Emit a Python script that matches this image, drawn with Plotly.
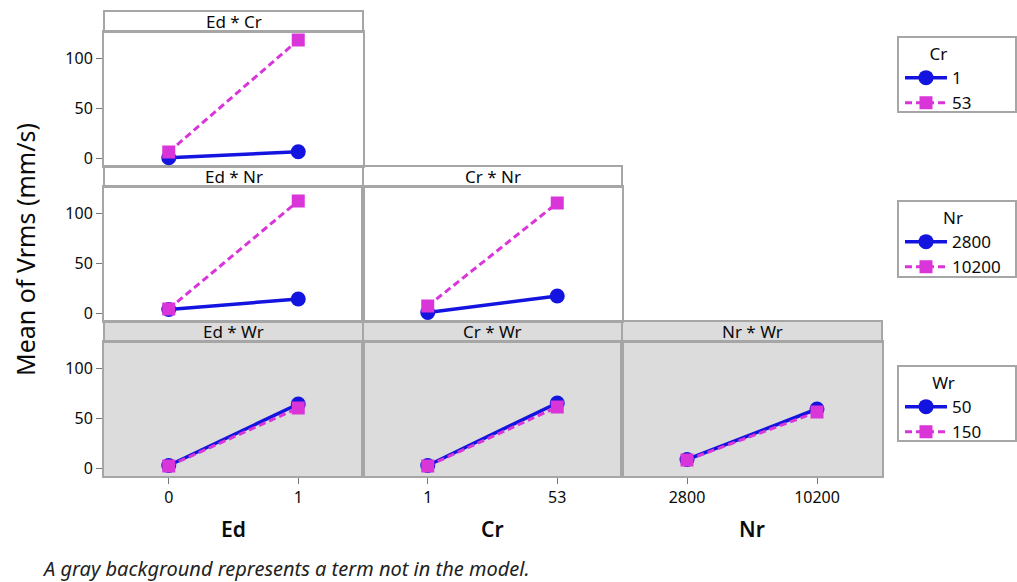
import plotly.graph_objects as go

# ---------------- data ----------------
ed_levels = ["0", "1"]
cr_levels = ["1", "53"]
nr_levels = ["2800", "10200"]

ed_cr_cr1 = [0.3, 6.3]
ed_cr_cr53 = [6.0, 118.0]
ed_nr_nr2800 = [3.5, 14.0]
ed_nr_nr10200 = [4.0, 112.0]
cr_nr_nr2800 = [0.5, 17.0]
cr_nr_nr10200 = [7.0, 110.0]
ed_wr_wr50 = [2.5, 64.0]
ed_wr_wr150 = [2.0, 60.0]
cr_wr_wr50 = [2.5, 65.0]
cr_wr_wr150 = [2.0, 61.0]
nr_wr_wr50 = [8.5, 59.0]
nr_wr_wr150 = [8.0, 56.0]

y_ticks = [0, 50, 100]
panel_titles = ["Ed * Cr", "Ed * Nr", "Cr * Nr", "Ed * Wr", "Cr * Wr", "Nr * Wr"]
x_titles = ["Ed", "Cr", "Nr"]

# ---------------- style ----------------
FONT = "Noto Sans"
BLUE = "#1414e0"
MAG = "#d935d9"
BORDER = "#a6a6a6"
GRAY = "#dcdcdc"
TXT = "#0a0a0a"

W, H = 1017, 582
L, R, T, B = 104, 135, 11, 106
PW, PH = W - L - R, H - T - B  # 778 x 465

def px_x(p):
    return (p - L) / PW

def px_y(p):
    return (H - B - p) / PH

col_dom = [[0, 259 / 778], [259 / 778, 518 / 778], [518 / 778, 1.0]]
row_dom = {1: [px_y(166), px_y(32)], 2: [px_y(321), px_y(187)], 3: [px_y(476), px_y(342)]}
hdr = 21 / PH

panels = [
    (1, 0, ed_levels, ed_cr_cr1, ed_cr_cr53, "legend", ["1", "53"]),
    (2, 0, ed_levels, ed_nr_nr2800, ed_nr_nr10200, "legend2", ["2800", "10200"]),
    (2, 1, cr_levels, cr_nr_nr2800, cr_nr_nr10200, None, ["2800", "10200"]),
    (3, 0, ed_levels, ed_wr_wr50, ed_wr_wr150, "legend3", ["50", "150"]),
    (3, 1, cr_levels, cr_wr_wr50, cr_wr_wr150, None, ["50", "150"]),
    (3, 2, nr_levels, nr_wr_wr50, nr_wr_wr150, None, ["50", "150"]),
]

fig = go.Figure()
shapes = []
annotations = []

for i, (row, col, xs, s1, s2, leg, names) in enumerate(panels):
    k = i + 1
    xa = "x" if k == 1 else f"x{k}"
    ya = "y" if k == 1 else f"y{k}"
    show = leg is not None
    fig.add_trace(go.Scatter(
        x=xs, y=s1, xaxis=xa, yaxis=ya, mode="lines+markers", name=names[0],
        line=dict(color=BLUE, width=3.5),
        marker=dict(symbol="circle", size=15, color=BLUE),
        showlegend=show, legend=leg if show else "legend"))
    fig.add_trace(go.Scatter(
        x=xs, y=s2, xaxis=xa, yaxis=ya, mode="lines+markers", name=names[1],
        line=dict(color=MAG, width=3, dash="7px,4px"),
        marker=dict(symbol="square", size=13, color=MAG),
        showlegend=show, legend=leg if show else "legend"))

    bottom = row == 3
    left = col == 0
    xkey = "xaxis" if k == 1 else f"xaxis{k}"
    ykey = "yaxis" if k == 1 else f"yaxis{k}"
    fig.layout[xkey] = dict(
        domain=col_dom[col], anchor=ya, type="category", range=[-0.5, 1.5],
        showgrid=False, zeroline=False, showline=True, mirror=True,
        linecolor=BORDER, linewidth=2,
        ticks="outside" if bottom else "", ticklen=6, tickwidth=1, tickcolor="#777",
        showticklabels=bottom, tickfont=dict(family=FONT, size=16, color=TXT),
        fixedrange=True)
    fig.layout[ykey] = dict(
        domain=row_dom[row], anchor=xa, range=[-8, 126],
        tickvals=y_ticks, showgrid=False, zeroline=False, showline=True, mirror=True,
        linecolor=BORDER, linewidth=2,
        ticks="outside" if left else "", ticklen=6, tickwidth=1, tickcolor="#777",
        showticklabels=left, tickfont=dict(family=FONT, size=16, color=TXT),
        fixedrange=True)

    x0, x1 = col_dom[col]
    y0, y1 = row_dom[row]
    fill = GRAY if row == 3 else "white"
    if row == 3:
        shapes.append(dict(type="rect", xref="paper", yref="paper", x0=x0, x1=x1,
                           y0=y0, y1=y1, fillcolor=GRAY, line=dict(width=0),
                           layer="below"))
    shapes.append(dict(type="rect", xref="paper", yref="paper", x0=x0, x1=x1,
                       y0=y1, y1=y1 + hdr, fillcolor=fill,
                       line=dict(color=BORDER, width=2), layer="below"))
    annotations.append(dict(text=panel_titles[i], xref="paper", yref="paper",
                            x=(x0 + x1) / 2, y=y1 + hdr / 2, xanchor="center",
                            yanchor="middle", showarrow=False,
                            font=dict(family=FONT, size=17, color=TXT)))

# x titles
for c, t in enumerate(x_titles):
    annotations.append(dict(text=t, xref="paper", yref="paper",
                            x=sum(col_dom[c]) / 2, y=px_y(529), xanchor="center",
                            yanchor="middle", showarrow=False,
                            font=dict(family=FONT, size=21, color=TXT, weight=600)))

# y title
annotations.append(dict(text="Mean of Vrms (mm/s)", xref="paper", yref="paper",
                        x=px_x(25), y=px_y(250), xanchor="center", yanchor="middle",
                        textangle=-90, showarrow=False,
                        font=dict(family=FONT, size=25, color=TXT)))

# footnote
annotations.append(dict(text="A gray background represents a term not in the model.",
                        xref="paper", yref="paper", x=px_x(40), y=px_y(568),
                        xanchor="left", yanchor="middle", showarrow=False,
                        font=dict(family=FONT, size=20, color="#222", style="italic")))

# legend boxes
for top, bot in [(37, 112), (201, 277), (366, 441)]:
    shapes.append(dict(type="rect", xref="paper", yref="paper",
                       x0=px_x(898), x1=px_x(1016), y0=px_y(bot), y1=px_y(top),
                       fillcolor="white", line=dict(color=BORDER, width=2),
                       layer="below"))

leg_common = dict(bgcolor="rgba(0,0,0,0)", borderwidth=0,
                  font=dict(family=FONT, size=17, color=TXT),
                  xanchor="left", yanchor="top", itemwidth=42,
                  tracegroupgap=0)
legend_titles = ["Cr", "Nr", "Wr"]
legend_tops = [38, 202, 367]

layout_legends = {}
for j, (lt, top) in enumerate(zip(legend_titles, legend_tops)):
    key = "legend" if j == 0 else f"legend{j + 1}"
    layout_legends[key] = dict(leg_common, x=px_x(900), y=px_y(top),
                               title=dict(text=lt, side="top center",
                                          font=dict(family=FONT, size=17, color=TXT)))

fig.update_layout(
    width=W, height=H,
    margin=dict(l=L, r=R, t=T, b=B, autoexpand=False),
    paper_bgcolor="white", plot_bgcolor="white",
    shapes=shapes, annotations=annotations,
    **layout_legends,
)

fig.write_html("out.html")
